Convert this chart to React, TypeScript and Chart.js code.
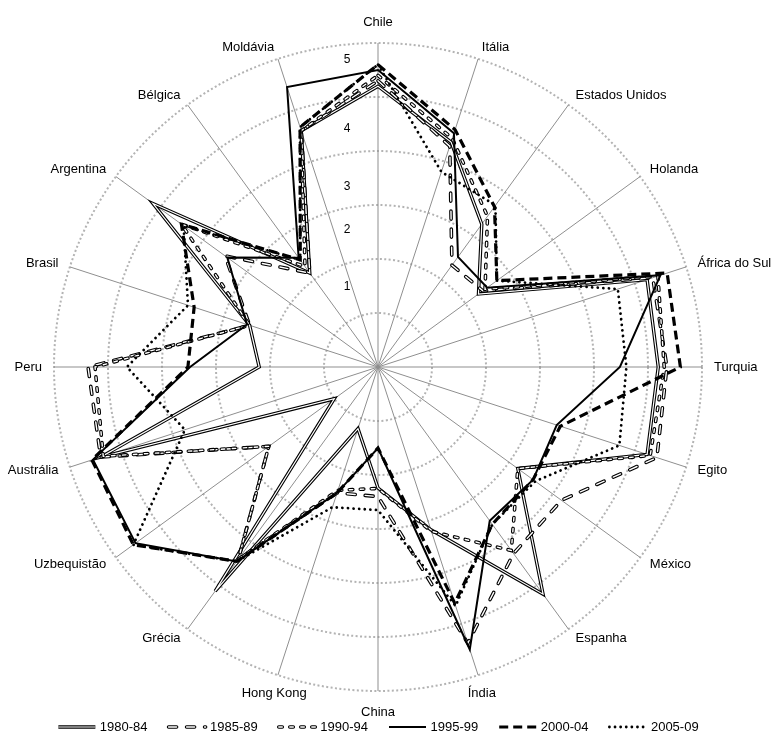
import React, { useEffect, useRef } from "react";
import { Chart, registerables } from "chart.js";

Chart.register(...registerables);

const CATEGORIES = [
  "Chile", "Itália", "Estados Unidos", "Holanda", "África do Sul", "Turquia", "Egito",
  "México", "Espanha", "Índia", "China", "Hong Kong", "Grécia", "Uzbequistão",
  "Austrália", "Peru", "Brasil", "Argentina", "Bélgica", "Moldávia",
];

const SERIES_NAMES = ["1980-84", "1985-89", "1990-94", "1995-99", "2000-04", "2005-09"];

const S1980 = [5.2, 4.38, 3.27, 2.3, 5.24, 5.19, 5.24, 3.2, 5.2, 3.17, 2.24, 1.2, 5.13, 1.0, 5.4, 2.2, 2.5, 5.15, 2.15, 4.6];
const S1985 = [5.3, 4.3, 2.33, 2.4, 5.35, 5.35, 5.43, 4.2, 4.27, 5.38, 2.4, 2.45, 4.4, 2.5, 5.4, 5.37, 2.5, 3.5, 2.15, 4.6];
const S1990 = [5.4, 4.45, 3.45, 2.45, 5.45, 5.3, 5.3, 3.2, 4.2, 3.2, 2.25, 2.4, 4.4, 2.5, 5.35, 5.24, 2.5, 4.5, 2.3, 4.6];
const S1995 = [5.5, 4.55, 2.52, 2.5, 5.5, 4.48, 3.48, 3.55, 3.52, 5.5, 1.5, 2.45, 4.45, 5.55, 5.55, 3.48, 2.55, 3.45, 2.5, 5.45];
const S2000 = [5.6, 4.62, 3.67, 2.72, 5.63, 5.6, 3.55, 3.55, 3.6, 4.6, 1.5, 2.45, 4.45, 5.6, 5.57, 3.52, 3.58, 4.5, 2.45, 4.67];
const S2005 = [5.6, 3.8, 3.7, 2.72, 4.67, 4.6, 4.7, 3.6, 3.6, 4.65, 2.65, 2.73, 4.45, 5.6, 3.76, 4.65, 3.7, 4.45, 2.45, 4.67];

const SERIES_VALUES = [S1980, S1985, S1990, S1995, S2000, S2005];

const TICK_LABELS = ["1", "2", "3", "4", "5"];
const TICK_AT = [1.48, 2.54, 3.33, 4.41, 5.7];

type Layer = { width: number; dash: number[]; cap: CanvasLineCap };
type Style = { outer: Layer; inner?: Layer };

const STYLES: Style[] = [
  { outer: { width: 3.4, dash: [], cap: "butt" }, inner: { width: 1.2, dash: [], cap: "butt" } },
  { outer: { width: 3.6, dash: [8, 10], cap: "round" }, inner: { width: 1.4, dash: [8, 10], cap: "round" } },
  { outer: { width: 3.6, dash: [3.5, 7.5], cap: "round" }, inner: { width: 1.4, dash: [3.5, 7.5], cap: "round" } },
  { outer: { width: 2, dash: [], cap: "butt" } },
  { outer: { width: 3.2, dash: [9, 5], cap: "butt" } },
  { outer: { width: 2.8, dash: [0.01, 5.6], cap: "round" } },
];

const FONT = "'Liberation Sans', Arial, sans-serif";

const labelsPlugin = {
  id: "customLabels",
  afterDraw(chart: any) {
    const scale = chart.scales.r;
    const ctx = chart.ctx as CanvasRenderingContext2D;
    ctx.save();
    ctx.fillStyle = "#000";
    ctx.font = `13px ${FONT}`;
    const R = scale.drawingArea;
    CATEGORIES.forEach((lab, i) => {
      const p = scale.getPointPosition(i, R + 12);
      const ux = Math.cos(p.angle);
      const uy = Math.sin(p.angle);
      let align: CanvasTextAlign = "center";
      let y = p.y;
      if (Math.abs(ux) <= 0.05) {
        y += uy * 9;
      } else if (uy > 0.9) {
        y += 7;
      } else if (ux > 0) {
        align = "left";
      } else {
        align = "right";
      }
      ctx.textAlign = align;
      ctx.textBaseline = "middle";
      ctx.fillText(lab, p.x, y);
    });
    ctx.font = `12px ${FONT}`;
    ctx.textAlign = "center";
    ctx.textBaseline = "middle";
    TICK_LABELS.forEach((t, k) => {
      const d = scale.getDistanceFromCenterForValue(TICK_AT[k]);
      ctx.fillText(t, scale.xCenter - 31, scale.yCenter - d);
    });
    const legend = chart.legend;
    if (legend && legend.legendHitBoxes) {
      legend.legendHitBoxes.forEach((box: any, i: number) => {
        const st = STYLES[i];
        if (!st) return;
        const y = box.top + box.height / 2;
        const x0 = box.left + 1;
        const x1 = box.left + 38;
        const layers = [st.outer, st.inner].filter(Boolean) as Layer[];
        layers.forEach((ly, li) => {
          ctx.beginPath();
          ctx.strokeStyle = li === 0 ? "#000" : "#fff";
          ctx.lineWidth = ly.width;
          ctx.setLineDash(ly.dash);
          ctx.lineCap = ly.cap;
          ctx.moveTo(x0, y);
          ctx.lineTo(x1, y);
          ctx.stroke();
        });
      });
    }
    ctx.restore();
  },
};

export default function App() {
  const ref = useRef<HTMLCanvasElement | null>(null);
  useEffect(() => {
    document.body.style.margin = "0";
    const datasets: any[] = [];
    SERIES_VALUES.forEach((vals, k) => {
      const st = STYLES[k];
      datasets.push({
        label: SERIES_NAMES[k],
        data: vals,
        borderColor: "#000",
        backgroundColor: "rgba(0,0,0,0)",
        borderWidth: st.outer.width,
        borderDash: st.outer.dash,
        borderCapStyle: st.outer.cap,
        borderJoinStyle: "miter",
        fill: false,
        pointRadius: 0,
        pointHoverRadius: 0,
        order: 100 - 2 * k,
      });
      if (st.inner) {
        datasets.push({
          label: SERIES_NAMES[k] + " ",
          data: vals,
          borderColor: "#fff",
          backgroundColor: "rgba(0,0,0,0)",
          borderWidth: st.inner.width,
          borderDash: st.inner.dash,
          borderCapStyle: st.inner.cap,
          borderJoinStyle: "miter",
          fill: false,
          pointRadius: 0,
          pointHoverRadius: 0,
          order: 99 - 2 * k,
        });
      }
    });
    const chart = new Chart(ref.current as HTMLCanvasElement, {
      type: "radar",
      data: { labels: CATEGORIES, datasets },
      options: {
        animation: false,
        responsive: false,
        devicePixelRatio: 1,
        layout: { padding: { left: 0, right: 16, top: 43, bottom: -7.5 } },
        plugins: {
          tooltip: { enabled: false },
          legend: {
            position: "bottom",
            title: { display: true, text: "", font: { size: 5 }, padding: { top: 0, bottom: 3.5 } },
            labels: {
              font: { family: FONT, size: 13 },
              color: "#000",
              boxWidth: 36,
              boxHeight: 13,
              padding: 20,
              generateLabels: () =>
                SERIES_NAMES.map((n, i) => ({
                  text: n,
                  fillStyle: "rgba(0,0,0,0)",
                  strokeStyle: "rgba(0,0,0,0)",
                  lineWidth: 0,
                  hidden: false,
                  datasetIndex: i,
                  fontColor: "#000",
                })),
            },
          },
        },
        scales: {
          r: {
            min: 0,
            max: 6,
            ticks: { display: false, stepSize: 1 },
            pointLabels: { display: false },
            grid: { circular: true, color: "#b3b3b3", lineWidth: 2 },
            border: { dash: [2, 2.4] },
            angleLines: { color: "#8f8f8f", lineWidth: 1 },
          },
        },
      },
      plugins: [labelsPlugin],
    });
    return () => chart.destroy();
  }, []);
  return (
    <div style={{ width: 772, height: 736 }}>
      <canvas ref={ref} width={772} height={736} style={{ display: "block" }} />
    </div>
  );
}
